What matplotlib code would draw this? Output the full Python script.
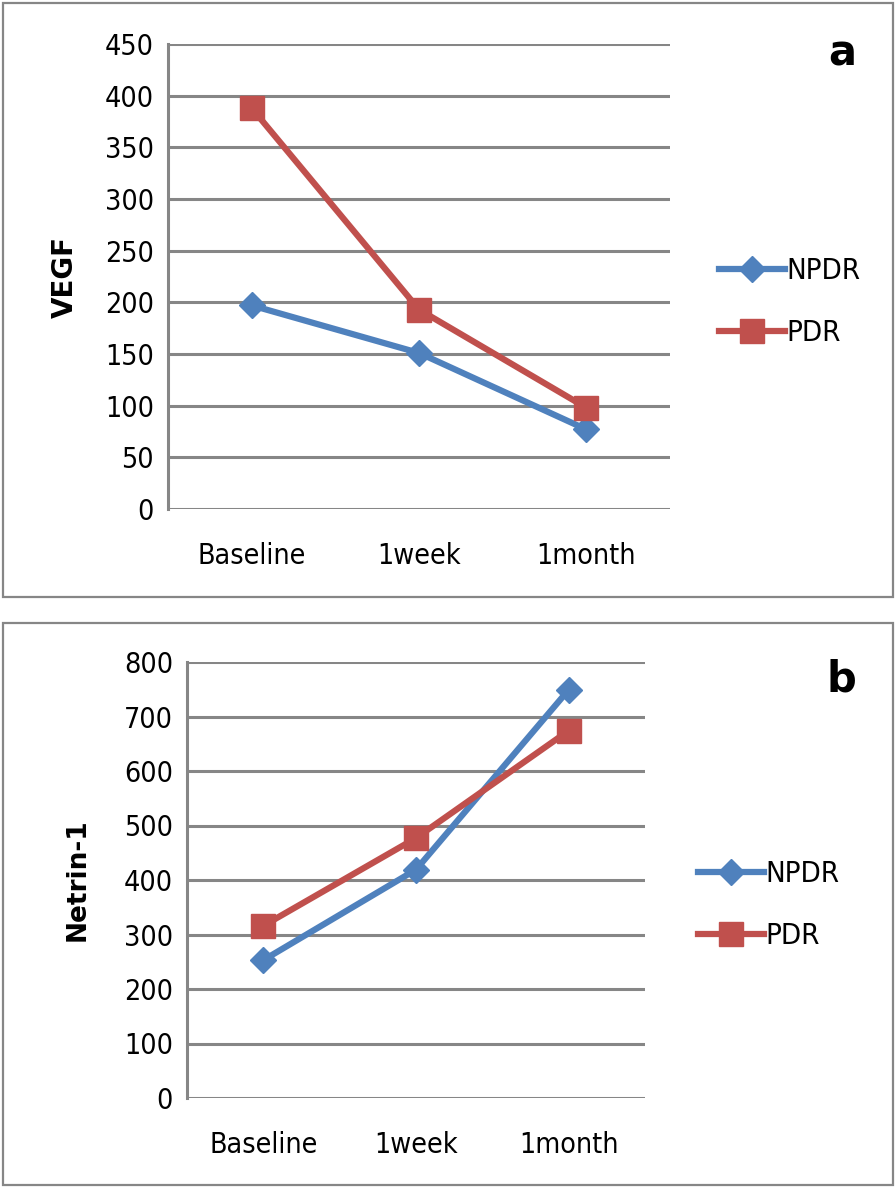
import matplotlib.pyplot as plt
from matplotlib.patches import Rectangle
from matplotlib import font_manager

periods = ["Baseline", "1week", "1month"]
vegf_npdr = [197, 151, 77]
vegf_pdr = [388, 193, 98]
netrin_npdr = [253, 419, 749]
netrin_pdr = [316, 477, 674]

blue = "#4F81BD"
red = "#C0504D"
grid_col = "#868686"

fig = plt.figure(figsize=(8.96, 11.88), dpi=100)
W, H = 896, 1188


def fx(px):
    return px / W


def fy(py):
    return 1 - py / H


tick_prop = font_manager.FontProperties(family="DejaVu Sans", stretch="condensed", size=20.5)
leg_prop = font_manager.FontProperties(family="DejaVu Sans", stretch="condensed", size=21)

# outer panel boxes
for (x0, y0, x1, y1) in [(3, 3, 893, 597), (3, 623, 893, 1185)]:
    fig.patches.append(Rectangle((fx(x0), fy(y1)), fx(x1) - fx(x0), fy(y0) - fy(y1),
                                 transform=fig.transFigure, fill=False,
                                 edgecolor=grid_col, linewidth=1.6))


def panel(box, npdr, pdr, ymax, step, ylabel, ylab_size, letter, letter_pos, ylab_x, leg_pos):
    left, top, right, bottom = box
    ax = fig.add_axes([fx(left), fy(bottom), fx(right) - fx(left), fy(top) - fy(bottom)])
    x = range(len(periods))
    ax.plot(x, npdr, color=blue, lw=4.5, marker="D", ms=13, label="NPDR", zorder=3)
    ax.plot(x, pdr, color=red, lw=4.5, marker="s", ms=17, label="PDR", zorder=4)
    ax.set_xlim(-0.5, 2.5)
    ax.set_ylim(0, ymax)
    ax.set_yticks(range(0, ymax + 1, step))
    ax.yaxis.grid(True, color=grid_col, lw=2.2)
    ax.set_axisbelow(True)
    for s in ["top", "right", "bottom"]:
        ax.spines[s].set_visible(False)
    ax.spines["left"].set_color(grid_col)
    ax.spines["left"].set_linewidth(2.2)
    ax.tick_params(length=0, pad=10)
    ax.tick_params(axis="x", pad=24)
    ax.set_xticks(list(x))
    ax.set_xticklabels(periods)
    for lab in ax.get_xticklabels() + ax.get_yticklabels():
        lab.set_fontproperties(tick_prop)
    fig.text(fx(ylab_x), fy((top + bottom) / 2), ylabel, rotation=90, fontsize=ylab_size,
             fontweight="bold", ha="center", va="center")
    fig.text(fx(letter_pos[0]), fy(letter_pos[1]), letter, fontsize=30, fontweight="bold",
             ha="center", va="center")
    ax.legend(loc="center left", bbox_to_anchor=(fx(leg_pos[0]), fy(leg_pos[1])),
              bbox_transform=fig.transFigure, frameon=False, handlelength=2.25,
              handletextpad=0.05, labelspacing=1.15, markerscale=1.0,
              borderpad=0, borderaxespad=0, prop=leg_prop)
    return ax


panel((168, 44, 670, 509), vegf_npdr, vegf_pdr, 450, 50, "VEGF", 20, "a", (842, 53), 65, (719, 302))
panel((187, 662, 645, 1098), netrin_npdr, netrin_pdr, 800, 100, "Netrin-1", 19, "b", (841, 680), 78, (698, 905))

fig.savefig("out.png", dpi=100)
